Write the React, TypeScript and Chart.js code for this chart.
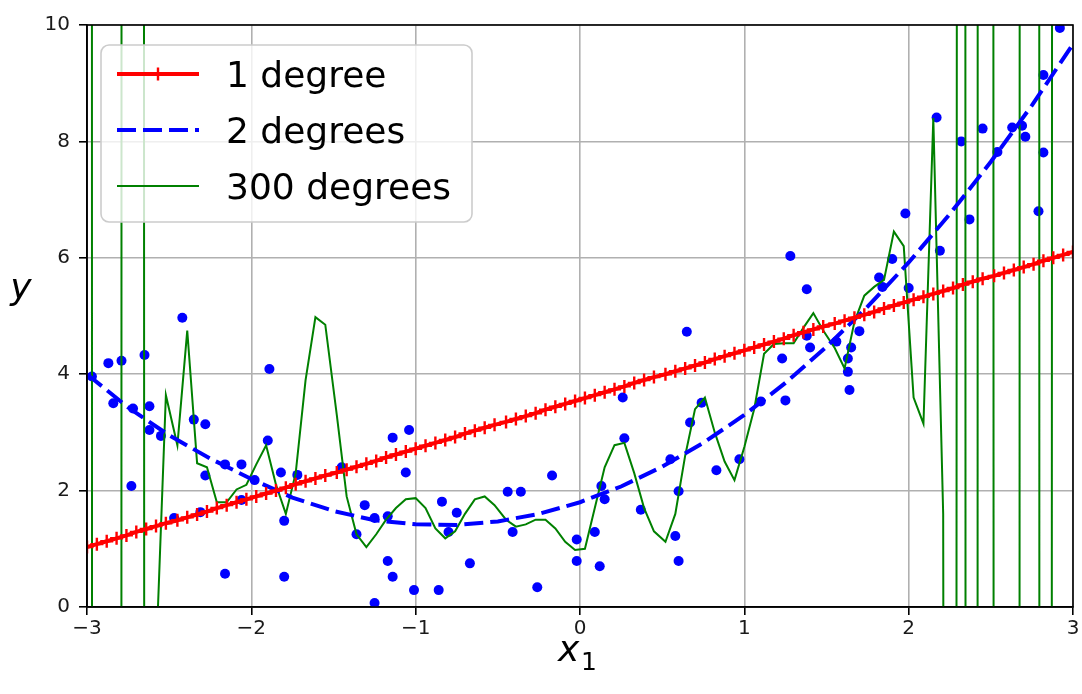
import React, { useEffect, useRef } from "react";
import { Chart, registerables } from "chart.js";

Chart.register(...registerables);

// X grid used for the model predictions (100 points from -3 to 3)
const X_NEW = [
  -3.0, -2.94, -2.88, -2.82, -2.76, -2.7, -2.64, -2.58, -2.52, -2.45,
  -2.39, -2.33, -2.27, -2.21, -2.15, -2.09, -2.03, -1.97, -1.91, -1.85,
  -1.79, -1.73, -1.67, -1.61, -1.55, -1.48, -1.42, -1.36, -1.3, -1.24,
  -1.18, -1.12, -1.06, -1.0, -0.94, -0.88, -0.82, -0.76, -0.7, -0.64,
  -0.58, -0.52, -0.45, -0.39, -0.33, -0.27, -0.21, -0.15, -0.09, -0.03,
  0.03, 0.09, 0.15, 0.21, 0.27, 0.33, 0.39, 0.45, 0.52, 0.58,
  0.64, 0.7, 0.76, 0.82, 0.88, 0.94, 1.0, 1.06, 1.12, 1.18,
  1.24, 1.3, 1.36, 1.42, 1.48, 1.55, 1.61, 1.67, 1.73, 1.79,
  1.85, 1.91, 1.97, 2.03, 2.09, 2.15, 2.21, 2.27, 2.33, 2.39,
  2.45, 2.52, 2.58, 2.64, 2.7, 2.76, 2.82, 2.88, 2.94, 3.0,
];

// 1 degree model predictions
const Y_DEG1 = [
  1.03, 1.08, 1.13, 1.18, 1.23, 1.29, 1.34, 1.39, 1.44, 1.49,
  1.54, 1.59, 1.64, 1.7, 1.75, 1.8, 1.85, 1.9, 1.95, 2.0,
  2.05, 2.11, 2.16, 2.21, 2.26, 2.31, 2.36, 2.41, 2.46, 2.51,
  2.57, 2.62, 2.67, 2.72, 2.77, 2.82, 2.87, 2.92, 2.98, 3.03,
  3.08, 3.13, 3.18, 3.23, 3.28, 3.33, 3.39, 3.44, 3.49, 3.54,
  3.59, 3.64, 3.69, 3.74, 3.79, 3.85, 3.9, 3.95, 4.0, 4.05,
  4.1, 4.15, 4.2, 4.26, 4.31, 4.36, 4.41, 4.46, 4.51, 4.56,
  4.61, 4.67, 4.72, 4.77, 4.82, 4.87, 4.92, 4.97, 5.02, 5.07,
  5.13, 5.18, 5.23, 5.28, 5.33, 5.38, 5.43, 5.48, 5.54, 5.59,
  5.64, 5.69, 5.74, 5.79, 5.84, 5.89, 5.95, 6.0, 6.05, 6.1,
];

// 2 degrees model
const X_DEG2 = [
  -3.0, -2.75, -2.5, -2.25, -2.0, -1.75, -1.5, -1.25, -1.0, -0.75, -0.5, -0.25, 0.0,
  0.25, 0.5, 0.75, 1.0, 1.25, 1.5, 1.75, 2.0, 2.25, 2.5, 2.75, 3.0,
];
const Y_DEG2 = [
  4.0, 3.43, 2.95, 2.55, 2.2, 1.88, 1.65, 1.49, 1.42, 1.41, 1.47, 1.6, 1.8,
  2.07, 2.41, 2.82, 3.3, 3.85, 4.47, 5.16, 5.92, 6.75, 7.65, 8.62, 9.67,
];

// 300 degrees model predictions (same X grid); edge values shoot far off scale
const Y_DEG300 = [
  4000, -1000, -3000, -4000, 1000, 400, -100, -0.9, 3.64, 2.78,
  4.75, 2.47, 2.4, 1.8, 1.8, 2.02, 2.1, 2.45, 2.78, 2.1,
  1.6, 2.3, 3.9, 4.98, 4.85, 3.3, 1.9, 1.25, 1.03, 1.25,
  1.5, 1.7, 1.85, 1.87, 1.7, 1.35, 1.18, 1.3, 1.6, 1.85,
  1.9, 1.75, 1.5, 1.38, 1.42, 1.5, 1.5, 1.35, 1.12, 0.98,
  1.0, 1.7, 2.4, 2.78, 2.82, 2.3, 1.7, 1.3, 1.12, 1.6,
  2.6, 3.4, 3.6, 3.0, 2.5, 2.18, 2.75, 3.4, 4.35, 4.52,
  4.53, 4.53, 4.8, 5.05, 4.75, 4.45, 4.1, 4.9, 5.35, 5.5,
  5.62, 6.45, 6.2, 3.6, 3.15, 8.4, 1.6, -108, 200, -4000,
  667, -28, -500, -2100, 400, 2280, -400, 70, 900, 5000,
];

// training data
const X_DATA = [
  -2.97, -2.87, -2.79, -2.65, -2.42, -1.89, -2.84, -2.72, -2.62, -2.62,
  -2.55, -2.35, -2.28, -2.73, -1.9, -2.16, -2.06, -1.82, -1.72, -1.98,
  -2.06, -2.31, -2.47, -1.8, -2.16, -1.8, -2.28, -1.45, -1.14, -1.04,
  -1.06, -1.31, -1.25, -1.17, -1.36, -1.17, -1.14, -1.01, -0.86, -1.25,
  -0.84, -0.75, -0.8, -0.67, -0.44, -0.36, -0.41, -0.26, -0.17, 0.26,
  0.27, 0.13, 0.15, 0.09, -0.02, -0.02, 0.12, 0.37, 0.55, 0.6,
  0.58, 0.6, 0.67, 0.74, 0.83, 0.97, 1.1, 0.65, 1.23, 1.25,
  1.38, 1.4, 1.56, 1.65, 1.63, 1.63, 1.64, 1.7, 1.28, 1.38,
  2.92, 2.82, 2.17, 2.45, 2.63, 2.69, 2.71, 2.32, 2.54, 2.82,
  1.98, 2.37, 2.79, 2.19, 1.9, 1.82, 1.84, 2.0,
];
const Y_DATA = [
  3.96, 4.19, 4.23, 4.33, 4.97, 4.09, 3.5, 3.41, 3.45, 3.04,
  2.94, 3.22, 3.14, 2.08, 2.86, 2.45, 2.45, 2.31, 2.27, 2.18,
  1.84, 1.63, 1.53, 1.48, 0.57, 0.52, 2.26, 2.4, 2.91, 3.04,
  2.31, 1.75, 1.53, 1.56, 1.25, 0.79, 0.52, 0.29, 0.29, 0.07,
  1.81, 1.62, 1.29, 0.75, 1.98, 1.98, 1.29, 0.34, 2.26, 3.6,
  2.9, 2.08, 1.85, 1.29, 1.16, 0.79, 0.7, 1.67, 2.54, 1.99,
  1.22, 0.79, 3.17, 3.51, 2.35, 2.54, 3.53, 4.73, 4.27, 3.55,
  4.66, 4.46, 4.56, 4.46, 4.27, 4.04, 3.73, 4.74, 6.03, 5.46,
  9.95, 9.14, 8.41, 8.22, 8.24, 8.27, 8.08, 8.0, 7.82, 7.81,
  6.76, 6.66, 6.8, 6.12, 5.98, 5.66, 5.5, 5.48,
];

const X_TICKS = [-3, -2, -1, 0, 1, 2, 3];
const Y_TICKS = [0, 2, 4, 6, 8, 10];
const SERIES_LABELS = ["1 degree", "2 degrees", "300 degrees"];

const FONT = '"DejaVu Sans", "Liberation Sans", sans-serif';
const DASH = [19, 7];

const fmt = (v: number) => (v < 0 ? "\u2212" + Math.abs(v) : String(v));

const framePlugin = {
  id: "frame",
  afterDatasetsDraw(chart: any) {
    const { ctx, chartArea } = chart;
    ctx.save();
    ctx.strokeStyle = "#000";
    ctx.lineWidth = 1.6;
    ctx.strokeRect(chartArea.left, chartArea.top, chartArea.right - chartArea.left, chartArea.bottom - chartArea.top);
    ctx.restore();
  },
};

const legendPlugin = {
  id: "mplLegend",
  afterDraw(chart: any) {
    const ctx = chart.ctx;
    const ds = chart.data.datasets;
    ctx.save();
    ctx.beginPath();
    (ctx as any).roundRect(101, 45, 371, 177, 8);
    ctx.fillStyle = "rgba(255,255,255,0.8)";
    ctx.fill();
    ctx.strokeStyle = "#cccccc";
    ctx.lineWidth = 1.6;
    ctx.stroke();
    const rows = [74, 130, 186];
    for (let k = 0; k < 3; k++) {
      const d = ds[k];
      const cy = rows[k];
      ctx.beginPath();
      ctx.setLineDash(d.borderDash || []);
      ctx.strokeStyle = d.borderColor;
      ctx.lineWidth = d.borderWidth;
      ctx.lineCap = "butt";
      ctx.moveTo(117, cy);
      ctx.lineTo(199, cy);
      ctx.stroke();
      ctx.setLineDash([]);
      if (d.pointStyle === "cross") {
        const r = d.pointRadius;
        ctx.beginPath();
        ctx.lineWidth = d.pointBorderWidth;
        ctx.moveTo(158 - r, cy);
        ctx.lineTo(158 + r, cy);
        ctx.moveTo(158, cy - r);
        ctx.lineTo(158, cy + r);
        ctx.stroke();
      }
      ctx.fillStyle = "#000";
      ctx.font = `36px ${FONT}`;
      ctx.textBaseline = "alphabetic";
      ctx.textAlign = "left";
      ctx.fillText(d.label, 226, cy + 12.5);
    }
    ctx.restore();
  },
};

const axisTitlePlugin = {
  id: "axisTitles",
  afterDraw(chart: any) {
    const ctx = chart.ctx;
    ctx.save();
    ctx.fillStyle = "#000";
    ctx.textBaseline = "alphabetic";
    ctx.textAlign = "left";
    ctx.font = `italic 36px ${FONT}`;
    ctx.fillText("x", 558, 661);
    ctx.font = `25px ${FONT}`;
    ctx.fillText("1", 581, 670);
    ctx.font = `italic 36px ${FONT}`;
    ctx.textAlign = "center";
    ctx.fillText("y", 21, 299);
    ctx.restore();
  },
};

export default function App() {
  const ref = useRef<HTMLCanvasElement | null>(null);

  useEffect(() => {
    if (!ref.current) return;
    const pts = (xs: number[], ys: number[]) => xs.map((x, i) => ({ x, y: ys[i] }));
    const chart = new Chart(ref.current, {
      type: "line",
      data: {
        datasets: [
          {
            label: SERIES_LABELS[0],
            data: pts(X_NEW, Y_DEG1),
            borderColor: "#ff0000",
            backgroundColor: "#ff0000",
            borderWidth: 4,
            pointStyle: "cross",
            pointRadius: 6.5,
            pointBorderWidth: 2.4,
            pointBorderColor: "#ff0000",
            fill: false,
            order: 1,
            clip: 0,
          } as any,
          {
            label: SERIES_LABELS[1],
            data: pts(X_DEG2, Y_DEG2),
            borderColor: "#0000ff",
            borderWidth: 4,
            borderDash: DASH,
            borderCapStyle: "butt",
            pointRadius: 0,
            fill: false,
            order: 2,
            clip: 0,
          } as any,
          {
            label: SERIES_LABELS[2],
            data: pts(X_NEW, Y_DEG300),
            borderColor: "#008000",
            borderWidth: 2,
            pointRadius: 0,
            fill: false,
            order: 3,
            clip: 0,
          } as any,
          {
            label: "data",
            data: pts(X_DATA, Y_DATA),
            showLine: false,
            pointRadius: 5,
            pointBorderWidth: 0,
            pointBackgroundColor: "#0000ff",
            backgroundColor: "#0000ff",
            borderColor: "#0000ff",
            order: 4,
            clip: 0,
          } as any,
        ],
      },
      options: {
        animation: false,
        responsive: false,
        devicePixelRatio: 1,
        layout: { padding: { left: 0, right: 9, top: 25, bottom: 0 } },
        plugins: { legend: { display: false }, tooltip: { enabled: false } },
        elements: { line: { tension: 0 } },
        scales: {
          x: {
            type: "linear",
            min: -3,
            max: 3,
            afterBuildTicks: (s: any) => {
              s.ticks = X_TICKS.map((v) => ({ value: v }));
            },
            afterFit: (s: any) => {
              s.height = 87;
            },
            ticks: {
              callback: (v: any) => fmt(Number(v)),
              font: { family: FONT, size: 20 },
              color: "#1a1a1a",
              padding: 2,
              maxRotation: 0,
            },
            grid: { color: "#b0b0b0", lineWidth: 1.6, tickColor: "#000", tickWidth: 1.6, tickLength: 8 },
            border: { display: true, color: "#000", width: 1.6 },
          },
          y: {
            type: "linear",
            min: 0,
            max: 10,
            afterBuildTicks: (s: any) => {
              s.ticks = Y_TICKS.map((v) => ({ value: v }));
            },
            afterFit: (s: any) => {
              s.width = 87;
            },
            ticks: {
              callback: (v: any) => fmt(Number(v)),
              font: { family: FONT, size: 20 },
              color: "#1a1a1a",
              padding: 9,
            },
            grid: { color: "#b0b0b0", lineWidth: 1.6, tickColor: "#000", tickWidth: 1.6, tickLength: 8 },
            border: { display: true, color: "#000", width: 1.6 },
          },
        },
      } as any,
      plugins: [framePlugin, legendPlugin, axisTitlePlugin],
    });
    return () => chart.destroy();
  }, []);

  return (
    <div style={{ position: "fixed", left: 0, top: 0, width: 1082, height: 694, background: "#fff" }}>
      <canvas ref={ref} width={1082} height={694} style={{ width: 1082, height: 694, display: "block" }} />
    </div>
  );
}
